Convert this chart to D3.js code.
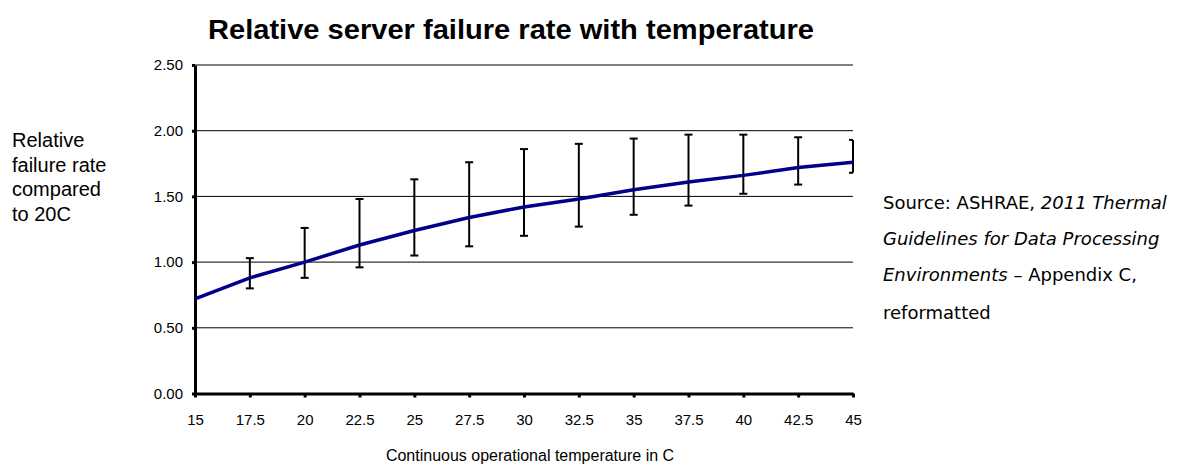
<!DOCTYPE html>
<html>
<head>
<meta charset="utf-8">
<script src="https://cdn.jsdelivr.net/npm/d3@7"></script>
<style>
  body { margin: 0; background: #fff; }
  text { font-family: "Liberation Sans", Arial, sans-serif; fill: #000; }
</style>
</head>
<body>
<div class="canvas"></div>
<script>
// Data
const temps = [15, 17.5, 20, 22.5, 25, 27.5, 30, 32.5, 35, 37.5, 40, 42.5, 45];
const rates = [0.72, 0.88, 1.00, 1.13, 1.24, 1.34, 1.42, 1.48, 1.55, 1.61, 1.66, 1.72, 1.76];
const errLow  = [null, 0.80, 0.88, 0.96, 1.05, 1.12, 1.20, 1.27, 1.36, 1.43, 1.52, 1.59, 1.68];
const errHigh = [null, 1.03, 1.26, 1.48, 1.63, 1.76, 1.86, 1.90, 1.94, 1.97, 1.97, 1.95, 1.93];
const yTicks = [0, 0.5, 1, 1.5, 2, 2.5];

// Dimensions
const dims = { width: 1177, height: 469 };
const plot = { left: 195, right: 853, top: 65, bottom: 393.5 };

const svg = d3.select('.canvas')
    .append('svg')
    .attr('width', dims.width)
    .attr('height', dims.height);

// Scales
const x = d3.scaleLinear().domain([15, 45]).range([plot.left, plot.right]);
const y = d3.scaleLinear().domain([0, 2.5]).range([plot.bottom, plot.top]);

// Gridlines
svg.append('g')
    .selectAll('line')
    .data(yTicks.slice(1))
    .enter()
    .append('line')
        .attr('x1', plot.left)
        .attr('x2', plot.right)
        .attr('y1', d => y(d))
        .attr('y2', d => y(d))
        .attr('stroke', '#000')
        .attr('stroke-width', 1);

// Y axis
const yAxis = svg.append('g')
    .attr('transform', `translate(${plot.left}, 0)`)
    .call(d3.axisLeft(y).tickValues(yTicks).tickFormat(d3.format('.2f'))
        .tickSize(3).tickSizeOuter(0).tickPadding(9));
yAxis.attr('font-size', 15);
yAxis.select('.domain').attr('stroke-width', 3);
yAxis.selectAll('.tick line').attr('stroke-width', 3);

// X axis
const xAxis = svg.append('g')
    .attr('transform', `translate(0, ${plot.bottom})`)
    .call(d3.axisBottom(x).tickValues(temps).tickFormat(d => d)
        .tickSize(4).tickSizeOuter(0).tickPadding(17));
xAxis.attr('font-size', 15);
xAxis.select('.domain').attr('stroke-width', 3);
xAxis.selectAll('.tick line').attr('stroke-width', 3);

// Error bars
const bars = temps.map((t, i) => ({ t, lo: errLow[i], hi: errHigh[i] }))
    .filter(d => d.lo !== null);

const eb = svg.append('g')
    .attr('stroke', '#000')
    .attr('stroke-width', 2);

eb.selectAll('line.v')
    .data(bars)
    .enter()
    .append('line')
        .attr('class', 'v')
        .attr('x1', d => x(d.t))
        .attr('x2', d => x(d.t))
        .attr('y1', d => y(d.lo))
        .attr('y2', d => y(d.hi));

['lo', 'hi'].forEach(k => {
    eb.selectAll(`line.${k}`)
        .data(bars)
        .enter()
        .append('line')
            .attr('class', k)
            .attr('x1', d => Math.max(x(d.t) - 4, plot.left))
            .attr('x2', d => Math.min(x(d.t) + 4, plot.right))
            .attr('y1', d => y(d[k]))
            .attr('y2', d => y(d[k]));
});

// Line
const line = d3.line()
    .x((d, i) => x(temps[i]))
    .y(d => y(d));

svg.append('path')
    .datum(rates)
    .attr('d', line)
    .attr('fill', 'none')
    .attr('stroke', '#00008b')
    .attr('stroke-width', 3.5);

// Title
svg.append('text')
    .attr('x', 511)
    .attr('y', 39)
    .attr('text-anchor', 'middle')
    .attr('textLength', 606)
    .attr('lengthAdjust', 'spacingAndGlyphs')
    .attr('font-size', 27)
    .attr('font-weight', 'bold')
    .text('Relative server failure rate with temperature');

// X label
svg.append('text')
    .attr('x', 530)
    .attr('y', 461)
    .attr('text-anchor', 'middle')
    .attr('font-size', 16)
    .text('Continuous operational temperature in C');

// Y label
const yLabel = ['Relative', 'failure rate', 'compared', 'to 20C'];
svg.append('text')
    .attr('font-size', 20)
    .selectAll('tspan')
    .data(yLabel)
    .enter()
    .append('tspan')
        .attr('x', 12)
        .attr('y', (d, i) => 147 + i * 24.5)
        .text(d => d);

// Source note
const src = svg.append('text')
    .attr('font-size', 18)
    .style('font-family', '"DejaVu Sans", sans-serif');
const l1 = src.append('tspan').attr('x', 883).attr('y', 209);
l1.append('tspan').text('Source: ASHRAE, ');
l1.append('tspan').attr('font-style', 'italic').text('2011 Thermal');
src.append('tspan').attr('x', 883).attr('y', 245).attr('font-style', 'italic').text('Guidelines for Data Processing');
const l3 = src.append('tspan').attr('x', 883).attr('y', 281);
l3.append('tspan').attr('font-style', 'italic').text('Environments');
l3.append('tspan').text(' \u2013 Appendix C,');
src.append('tspan').attr('x', 883).attr('y', 319).text('reformatted');
</script>
</body>
</html>
